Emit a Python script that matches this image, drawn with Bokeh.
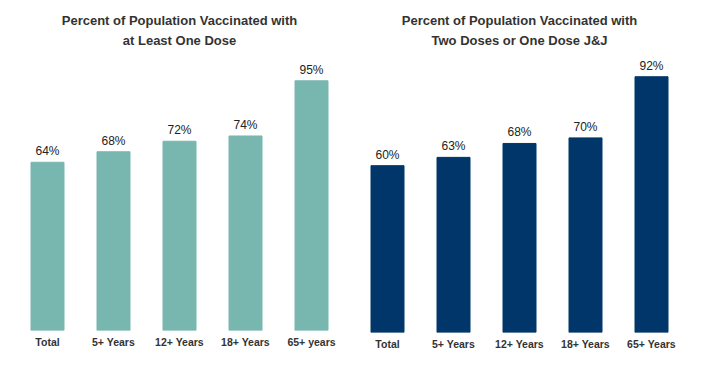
from bokeh.plotting import figure
from bokeh.models import ColumnDataSource, FactorRange, Range1d, LabelSet, Title
from bokeh.core.properties import value
from bokeh.layouts import row
from bokeh.embed import file_html
from bokeh.resources import INLINE

cats_left = ["Total", "5+ Years", "12+ Years", "18+ Years", "65+ years"]
vals_left = [64, 68, 72, 74, 95]
cats_right = ["Total", "5+ Years", "12+ Years", "18+ Years", "65+ Years"]
vals_right = [60, 63, 68, 70, 92]

title_left = ["Percent of Population Vaccinated with", "at Least One Dose"]
title_right = ["Percent of Population Vaccinated with", "Two Doses or One Dose J&J"]

FONT = "Liberation Sans"


def make(cats, vals, color, titles, ymax, fh, width, mbl, mbr, mbb):
    src = ColumnDataSource(dict(cat=cats, val=vals, lab=[f"{v}%" for v in vals]))
    p = figure(x_range=FactorRange(*cats), y_range=Range1d(0, ymax),
               width=width, height=355, frame_width=330, frame_height=fh,
               output_backend="svg", toolbar_location=None,
               min_border_left=mbl, min_border_right=mbr,
               min_border_bottom=mbb, min_border_top=54)
    p.vbar(x="cat", top="val", width=0.5, source=src, color=color)
    p.add_layout(LabelSet(x="cat", y="val", text="lab", source=src,
                          text_align="center", text_baseline="bottom",
                          y_offset=4, text_font=value(FONT),
                          text_font_size=value("12px"),
                          text_color="#222222"))
    p.title.text = titles[0]
    p.title.align = "center"
    p.title.text_font = FONT
    p.title.text_font_size = "13px"
    p.title.text_font_style = "bold"
    p.title.text_color = "#333333"
    p.title.standoff = -6
    p.add_layout(Title(text=titles[1], align="center", text_font=FONT,
                       text_font_size="13px", text_font_style="bold",
                       text_color="#333333", standoff=13), "above")
    p.yaxis.visible = False
    p.xaxis.axis_line_color = None
    p.xaxis.major_tick_line_color = None
    p.xaxis.minor_tick_line_color = None
    p.xaxis.major_tick_out = 0
    p.xaxis.major_tick_in = 0
    p.xaxis.major_label_text_font = FONT
    p.xaxis.major_label_text_font_size = "10.5px"
    p.xaxis.major_label_text_font_style = "bold"
    p.xaxis.major_label_text_color = "#333333"
    p.xaxis.major_label_standoff = 5
    p.xgrid.visible = False
    p.ygrid.visible = False
    p.outline_line_color = None
    return p


p1 = make(cats_left, vals_left, "#78B7B0", title_left, 105, 276, 354, 14, 10, 32)
p2 = make(cats_right, vals_right, "#003669", title_right, 100, 278, 350, 0, 20, 30)

layout = row(p1, p2)
open("out.html", "w").write(file_html(layout, INLINE))
